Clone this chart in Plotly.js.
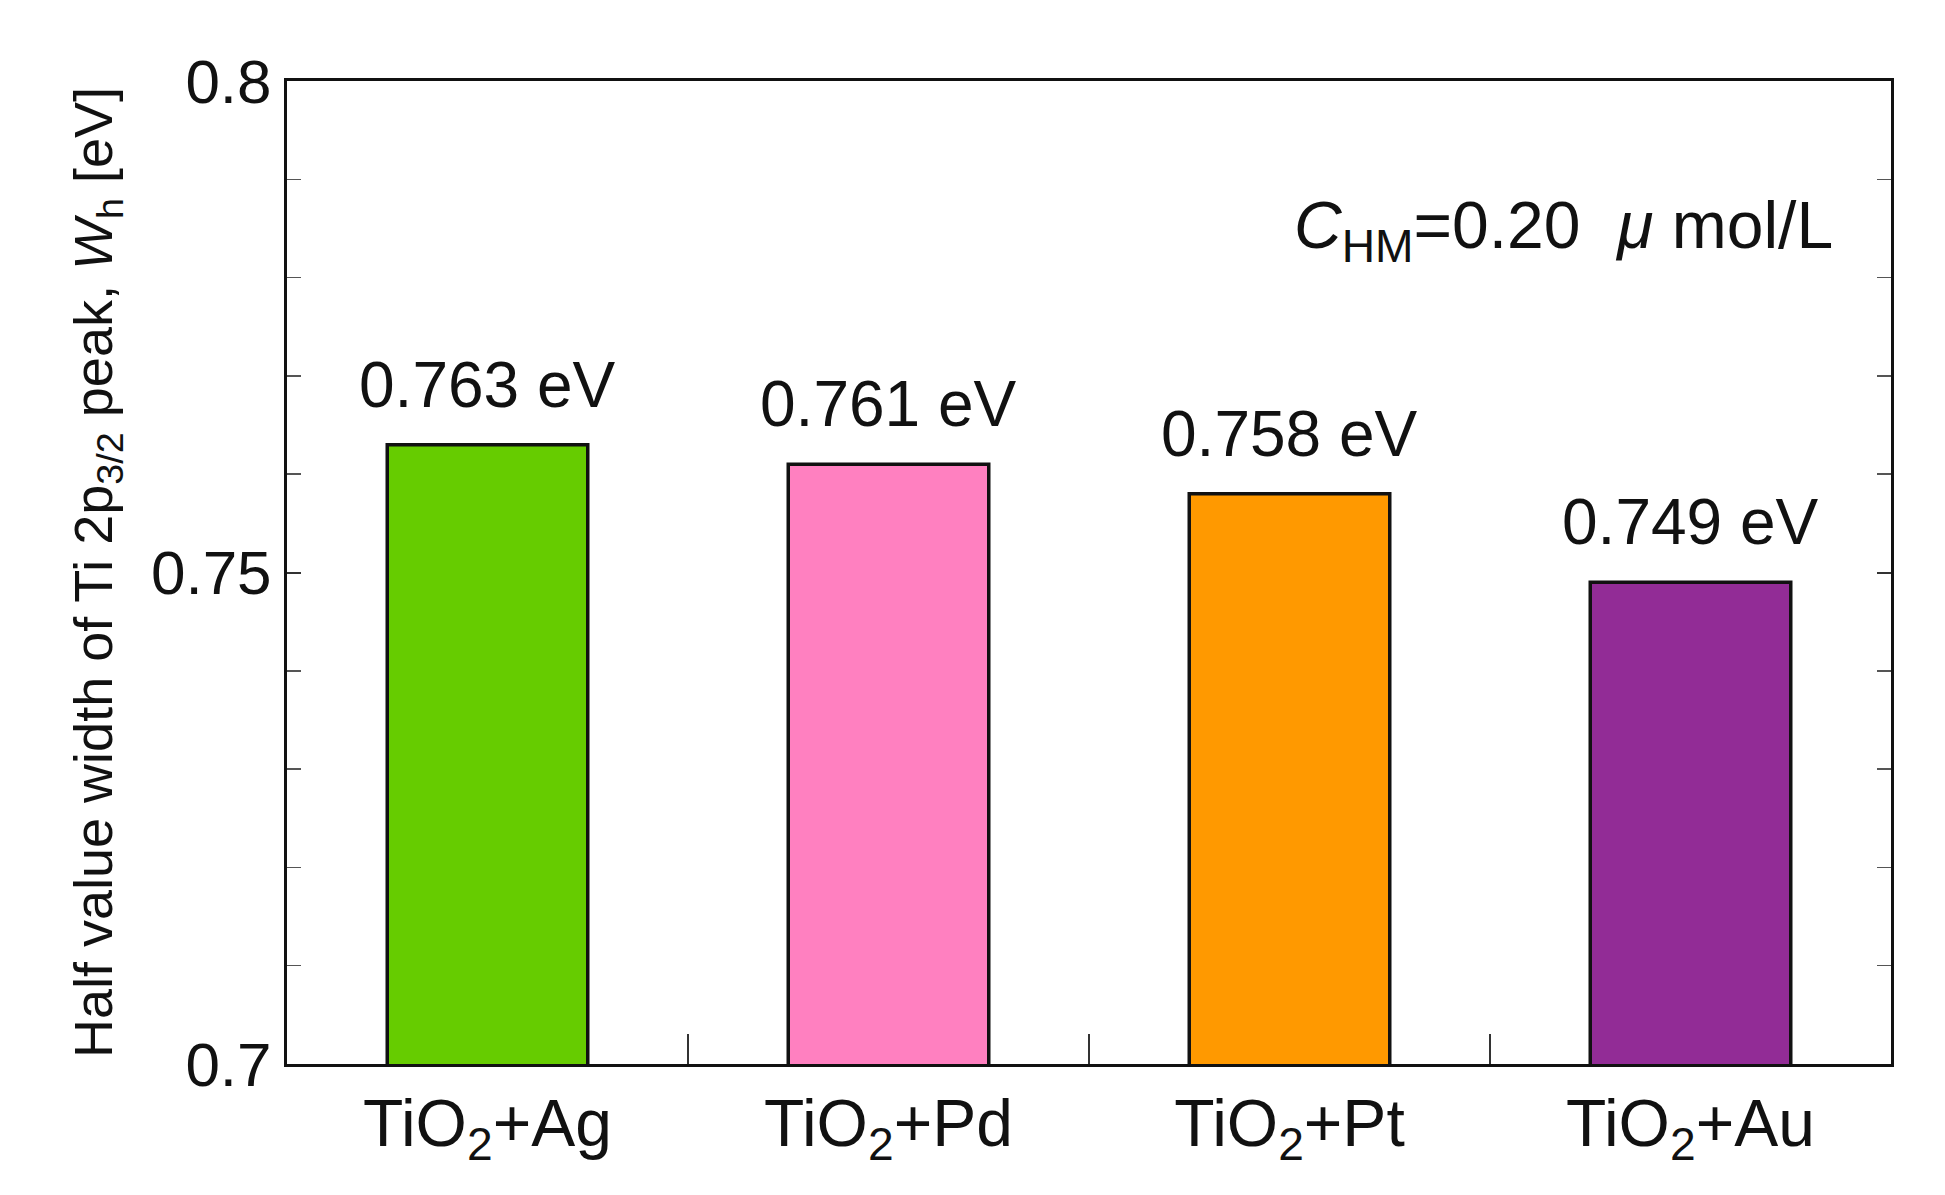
<!DOCTYPE html>
<html><head><meta charset="utf-8">
<script src="https://cdn.plot.ly/plotly-3.0.1.min.js"></script>
<style>body{margin:0;background:#fff}</style></head>
<body><div id="c" style="width:1945px;height:1195px"></div>
<script>
const categories = ["TiO<sub>2</sub>+Ag","TiO<sub>2</sub>+Pd","TiO<sub>2</sub>+Pt","TiO<sub>2</sub>+Au"];
const values = [0.763, 0.761, 0.758, 0.749];
const labels = ["0.763 eV","0.761 eV","0.758 eV","0.749 eV"];
const colors = ["#66cc00","#ff80c0","#ff9900","#922c96"];
const font = "Liberation Sans, Arial, sans-serif";
const idx = categories.map((_, i) => i);
const data = [{
  type: "bar", x: idx, y: values, width: 0.5,
  marker: {color: colors, line: {color: "#111", width: 3.5}}, hoverinfo: "none"
}, {
  type: "scatter", x: [0.5,1.5,2.5], y: [0.7,0.7,0.7], xaxis: "x2",
  mode: "markers", marker: {opacity: 0}, hoverinfo: "none"
}];
const annotations = idx.map(i => ({x: i, y: values[i], xref: "x", yref: "y", text: labels[i],
  showarrow: false, yanchor: "bottom", yshift: 22, font: {family: font, size: 64, color: "#111"}}));
annotations.push({xref: "paper", yref: "paper", x: 0.965, y: 0.848, xanchor: "right", yanchor: "middle",
  showarrow: false, text: "<i>C</i><sub>HM</sub>=0.20  <i>μ</i> mol/L",
  font: {family: font, size: 66, color: "#111"}});
const layout = {
  width: 1945, height: 1195, showlegend: false,
  paper_bgcolor: "#fff", plot_bgcolor: "#fff",
  margin: {l: 287, r: 54, t: 81, b: 131},
  xaxis: {range: [-0.5, 3.5], tickvals: idx, ticktext: categories, ticks: "",
    showline: true, linecolor: "#111", linewidth: 3, mirror: true, showgrid: false, zeroline: false,
    tickfont: {family: font, size: 66, color: "#111"}},
  xaxis2: {overlaying: "x", range: [-0.5, 3.5], tickvals: [0.5,1.5,2.5], ticks: "inside",
    ticklen: 30, tickwidth: 2, tickcolor: "#333", showticklabels: false, showgrid: false, zeroline: false, anchor: "y"},
  yaxis: {range: [0.7, 0.8], tickvals: [0.7, 0.75, 0.8], ticktext: ["0.7","0.75","0.8"],
    ticks: "inside", ticklen: 14, tickwidth: 2, tickcolor: "#333",
    minor: {dtick: 0.01, ticks: "inside", ticklen: 14, tickwidth: 1.5, tickcolor: "#555", showgrid: false},
    showline: true, linecolor: "#111", linewidth: 3, mirror: "allticks", showgrid: false, zeroline: false,
    tickfont: {family: font, size: 62, color: "#111"},
    title: {text: "Half value width of Ti 2p<sub>3/2</sub> peak, <i>W</i><sub>h</sub> [eV]", standoff: 22,
      font: {family: font, size: 54, color: "#111"}}},
  annotations: annotations
};
Plotly.newPlot("c", data, layout, {staticPlot: true});
</script></body></html>
